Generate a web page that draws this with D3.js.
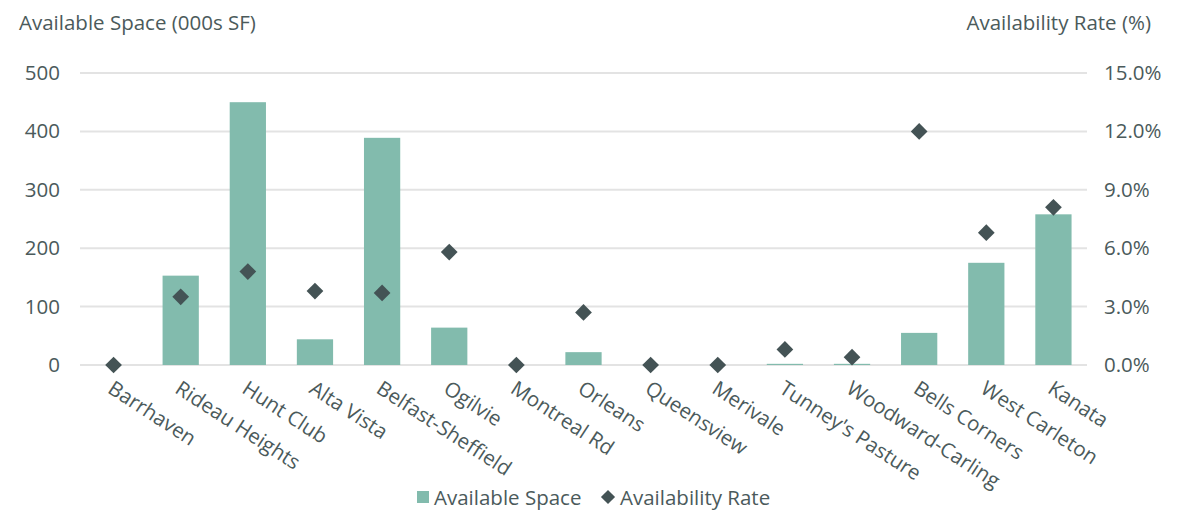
<!DOCTYPE html>
<html lang="en">
  <head>
    <meta charset="utf-8">
    <title>Available Space and Availability Rate</title>
    <style>
      body { margin: 0; background: #fff; }
      svg text { font-family: "Open Sans", sans-serif; fill: #4b5a5b; }
    </style>
  </head>
  <body>
    <svg></svg>
    <script src="https://d3js.org/d3.v7.min.js"></script>
    <script>
      // size
      var svgWidth = 1186;
      var svgHeight = 511;

      // data
      var submarkets = ['Barrhaven', 'Rideau Heights', 'Hunt Club', 'Alta Vista', 'Belfast-Sheffield',
        'Ogilvie', 'Montreal Rd', 'Orleans', 'Queensview', 'Merivale', "Tunney's Pasture",
        'Woodward-Carling', 'Bells Corners', 'West Carleton', 'Kanata'];
      var availableSpace = [0, 153, 450, 44, 389, 64, 0, 22, 0, 0, 2, 2, 55, 175, 258];
      var availabilityRate = [0, 3.5, 4.8, 3.8, 3.7, 5.8, 0, 2.7, 0, 0, 0.8, 0.4, 12.0, 6.8, 8.1];
      var leftTicks = [0, 100, 200, 300, 400, 500];
      var rightTicks = [0, 3, 6, 9, 12, 15];

      var barColor = '#82bbad';
      var dotColor = '#445355';
      var fontSize = 20.5;

      var plot = { left: 80, right: 1087, top: 73, bottom: 365 };

      var svg = d3.select('svg')
          .attr('width', svgWidth)
          .attr('height', svgHeight);

      var x = d3.scaleBand()
          .domain(submarkets)
          .range([plot.left, plot.right])
          .paddingInner(0.46)
          .paddingOuter(0.23);

      var yLeft = d3.scaleLinear().domain([0, 500]).range([plot.bottom, plot.top]);
      var yRight = d3.scaleLinear().domain([0, 15]).range([plot.bottom, plot.top]);

      // gridlines
      svg.append('g')
        .selectAll('line')
        .data(leftTicks)
        .enter()
        .append('line')
          .attr('x1', plot.left)
          .attr('x2', plot.right)
          .attr('y1', function(d) { return yLeft(d); })
          .attr('y2', function(d) { return yLeft(d); })
          .attr('stroke', '#e3e3e3')
          .attr('stroke-width', 2);

      // left axis
      var leftAxis = svg.append('g')
          .attr('transform', 'translate(60,0)')
          .call(d3.axisLeft(yLeft).tickValues(leftTicks).tickSize(0).tickPadding(0));
      leftAxis.select('.domain').remove();
      leftAxis.selectAll('text')
          .attr('font-size', fontSize)
          .style('fill', '#4b5a5b');

      // right axis
      var rightAxis = svg.append('g')
          .attr('transform', 'translate(1104,0)')
          .call(d3.axisRight(yRight).tickValues(rightTicks).tickSize(0).tickPadding(0)
            .tickFormat(function(d) { return d.toFixed(1) + '%'; }));
      rightAxis.select('.domain').remove();
      rightAxis.selectAll('text')
          .attr('font-size', fontSize)
          .style('fill', '#4b5a5b');

      // axis titles
      svg.append('text')
          .attr('x', 19)
          .attr('y', 30)
          .attr('font-size', fontSize)
          .text('Available Space (000s SF)');
      svg.append('text')
          .attr('x', 1151)
          .attr('y', 30)
          .attr('font-size', fontSize)
          .attr('text-anchor', 'end')
          .text('Availability Rate (%)');

      // bars
      svg.append('g')
        .selectAll('rect')
        .data(availableSpace)
        .enter()
        .append('rect')
          .attr('x', function(d, i) { return x(submarkets[i]); })
          .attr('width', x.bandwidth())
          .attr('y', function(d) { return yLeft(d); })
          .attr('height', function(d) { return plot.bottom - yLeft(d); })
          .attr('fill', barColor);

      // diamonds
      var diamond = d3.symbol().type(d3.symbolSquare).size(140);
      svg.append('g')
        .selectAll('path')
        .data(availabilityRate)
        .enter()
        .append('path')
          .attr('d', diamond)
          .attr('transform', function(d, i) {
            return 'translate(' + (x(submarkets[i]) + x.bandwidth() / 2) + ',' + yRight(d) + ') rotate(45)';
          })
          .attr('fill', dotColor);

      // category labels
      svg.append('g')
        .selectAll('text')
        .data(submarkets)
        .enter()
        .append('text')
          .attr('transform', function(d) {
            return 'translate(' + (x(d) + x.bandwidth() / 2 - 7) + ',392) rotate(33)';
          })
          .attr('font-size', fontSize)
          .text(function(d) { return d; });

      // legend
      var legend = svg.append('g').attr('transform', 'translate(0,498)');
      legend.append('rect')
          .attr('x', 417).attr('y', -7).attr('width', 12).attr('height', 12)
          .attr('fill', barColor);
      legend.append('text')
          .attr('x', 434).attr('y', 7).attr('font-size', fontSize)
          .text('Available Space');
      legend.append('path')
          .attr('d', d3.symbol().type(d3.symbolSquare).size(100))
          .attr('transform', 'translate(608,-1) rotate(45)')
          .attr('fill', dotColor);
      legend.append('text')
          .attr('x', 620).attr('y', 7).attr('font-size', fontSize)
          .text('Availability Rate');
    </script>
  </body>
</html>
